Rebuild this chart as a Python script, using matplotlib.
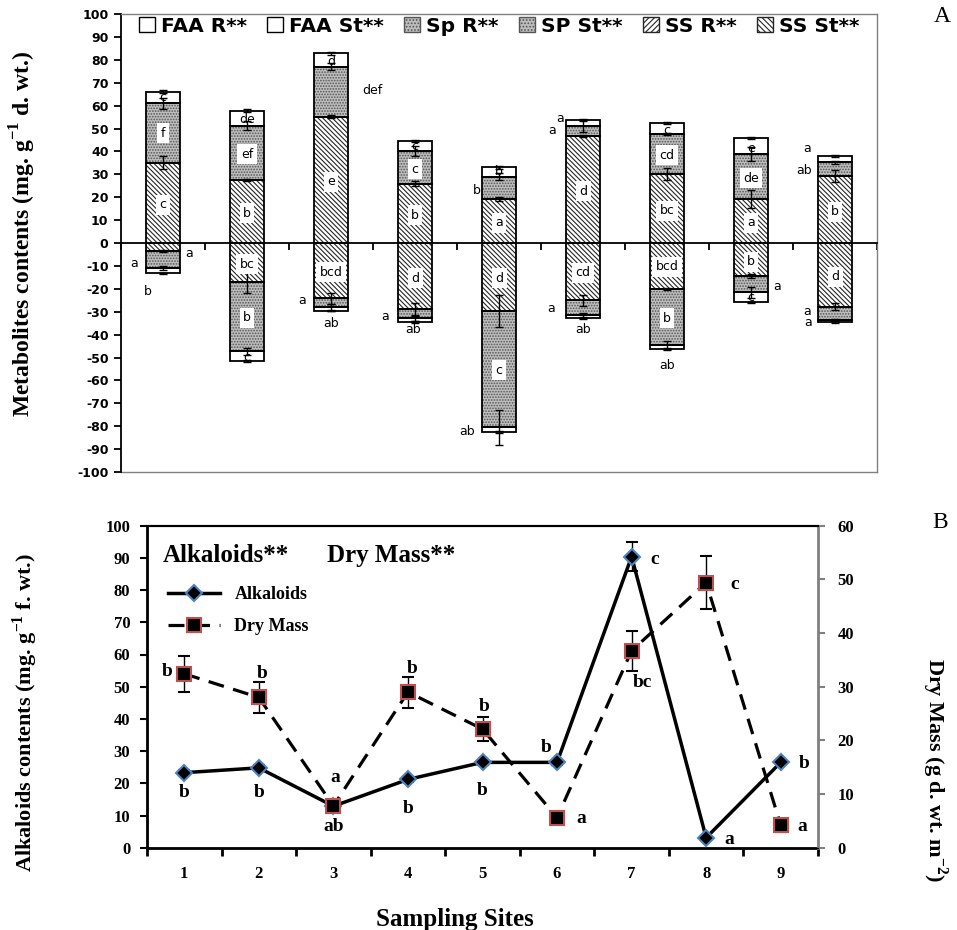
import numpy as np
import matplotlib
matplotlib.use('Agg')
import matplotlib.pyplot as plt
from matplotlib.patches import Patch
from matplotlib.lines import Line2D

plt.rcParams['hatch.linewidth'] = 0.8
plt.rcParams['axes.unicode_minus'] = False
plt.rcParams['mathtext.fontset'] = 'custom'
plt.rcParams['mathtext.rm'] = 'Liberation Serif'
plt.rcParams['mathtext.bf'] = 'Liberation Serif:bold'

# ---- panel A data (mg g-1 d. wt.) ----
sites = ['1', '2', '3', '4', '5', '6', '7', '8', '9']
ss_r = [35.1, 27.5, 55.2, 25.9, 19.3, 46.7, 30.1, 19.3, 29.3]
sp_r = [25.9, 23.7, 21.8, 14.3, 9.7, 4.4, 17.5, 19.6, 5.9]
faa_r = [5.1, 6.6, 5.8, 4.3, 4.0, 2.5, 4.9, 7.1, 2.7]
ss_st = [3.6, 17.2, 24.2, 28.8, 29.7, 25.0, 20.2, 14.4, 27.8]
sp_st = [7.4, 30.0, 3.9, 4.1, 50.8, 6.6, 24.3, 7.1, 5.8]
faa_st = [2.2, 4.3, 1.5, 1.6, 2.0, 1.2, 1.9, 4.4, 0.9]

ss_r_err = [3.0, 0.5, 0.5, 1.0, 1.0, 0.5, 2.5, 4.0, 2.5]
sp_r_err = [2.5, 2.0, 1.5, 2.0, 1.5, 2.5, 0.5, 3.0, 0.5]
faa_r_err = [0.5, 0.5, 0.5, 0.5, 0.5, 0.5, 0.5, 0.5, 0.5]
ss_st_err = [0.5, 4.5, 2.5, 2.5, 7.0, 2.5, 0.5, 1.0, 1.5]
sp_st_err = [1.0, 1.5, 1.5, 1.0, 7.5, 1.0, 1.5, 2.5, 0.5]
faa_st_err = [0.3, 0.3, 0.3, 0.3, 0.3, 0.3, 0.3, 0.3, 0.3]

# letters inside bars (white box): bar, y, text
boxed = [(0, 16.6, 'c'), (0, 47.9, 'f'), (1, 13, 'b'), (1, 38.7, 'ef'), (2, 26.8, 'e'),
         (3, 12.2, 'b'), (3, 32.3, 'c'), (4, 8.9, 'a'), (5, 22.7, 'd'), (6, 14.1, 'bc'),
         (6, 38.3, 'cd'), (7, 8.9, 'a'), (7, 28.2, 'de'), (8, 13.7, 'b'),
         (1, -9.3, 'bc'), (1, -32.6, 'b'), (2, -12.7, 'bcd'), (3, -15.4, 'd'), (4, -15.4, 'd'),
         (4, -55.5, 'c'), (5, -13, 'cd'), (6, -10.3, 'bcd'), (6, -32.8, 'b'), (7, -8.2, 'b'),
         (8, -14.7, 'd')]
# plain letters: bar, y, text, x shift
plain = [(0, 63.5, 'c', 0), (1, 54, 'de', 0), (2, 79.2, 'd', 0), (2, 66.8, 'def', 0.49),
         (3, 42, 'c', 0), (4, 22.8, 'b', -0.27), (4, 31.1, 'b', 0), (5, 49, 'a', -0.37),
         (5, 54.5, 'a', -0.27), (6, 49.3, 'c', 0), (7, 41.3, 'e', 0), (8, 31.6, 'ab', -0.37),
         (8, 41.4, 'a', -0.33),
         (0, -9, 'a', -0.345), (0, -4.8, 'a', 0.31), (0, -21, 'b', -0.18), (1, -50, 'c', 0),
         (2, -25, 'a', -0.345), (2, -35, 'ab', 0), (3, -32, 'a', -0.35), (3, -37.6, 'ab', -0.02),
         (4, -82.5, 'ab', -0.38), (5, -28.8, 'a', -0.38), (5, -37.6, 'ab', 0),
         (6, -53.3, 'ab', 0), (7, -18.8, 'a', 0.31), (7, -24, 'c', 0),
         (8, -29.7, 'a', -0.33), (8, -34.8, 'a', -0.32)]

# ---- panel B data ----
alkaloids = [23.3, 24.8, 12.9, 21.2, 26.5, 26.5, 90.4, 3.1, 26.5]
alk_err = [0.8, 0.8, 0.8, 0.8, 0.8, 0.8, 4.5, 0.5, 0.5]
dry_mass = [32.4, 28.0, 7.8, 29.0, 22.1, 5.6, 36.7, 49.4, 4.2]
dm_err = [3.3, 2.9, 0.6, 2.9, 2.2, 0.3, 3.7, 4.9, 0.3]
alk_letters = [(1, 17, 'b'), (2, 17, 'b'), (3, 6.5, 'ab'), (4, 12.3, 'b'), (5, 17.9, 'b'),
               (5.86, 31, 'b'), (7.31, 89.6, 'c'), (8.31, 2.4, 'a'), (9.32, 26.3, 'b')]
dm_letters = [(0.77, 54.7, 'b'), (2.04, 54, 'b'), (3.03, 21.7, 'a'), (4.05, 55.5, 'b'),
              (5.02, 44, 'b'), (6.32, 9.2, 'a'), (7.15, 51.2, 'bc'), (8.38, 81.6, 'c'),
              (9.29, 6.5, 'a')]

serif = 'Liberation Serif'
sans = 'DejaVu Sans'

fig = plt.figure(figsize=(9.57, 9.30), dpi=100)

# ================= panel A =================
ax1 = fig.add_axes([121 / 957, 1 - 472 / 930, 756 / 957, 458 / 930])
x = np.arange(len(sites))
w = 0.40

styles = {
    'ss': dict(face='white', hatch='\\\\\\\\\\\\\\', hcol='#262626'),
    'sp': dict(face='#bdbdbd', hatch='......', hcol='#555555'),
    'faa': dict(face='white', hatch=None, hcol='black'),
}


def seg(vals, bottoms, key):
    st = styles[key]
    ax1.bar(x, vals, w, bottom=bottoms, color=st['face'], edgecolor=st['hcol'],
            hatch=st['hatch'], lw=0, zorder=2)
    ax1.bar(x, vals, w, bottom=bottoms, fill=False, edgecolor='black', lw=1.3, zorder=3)


ss_r_a, sp_r_a, faa_r_a = np.array(ss_r), np.array(sp_r), np.array(faa_r)
ss_st_a, sp_st_a, faa_st_a = np.array(ss_st), np.array(sp_st), np.array(faa_st)

seg(ss_r_a, 0, 'ss')
seg(sp_r_a, ss_r_a, 'sp')
seg(faa_r_a, ss_r_a + sp_r_a, 'faa')
seg(-ss_st_a, 0, 'ss')
seg(-sp_st_a, -ss_st_a, 'sp')
seg(-faa_st_a, -(ss_st_a + sp_st_a), 'faa')

tops = [ss_r_a, ss_r_a + sp_r_a, ss_r_a + sp_r_a + faa_r_a,
        -ss_st_a, -(ss_st_a + sp_st_a), -(ss_st_a + sp_st_a + faa_st_a)]
errs = [ss_r_err, sp_r_err, faa_r_err, ss_st_err, sp_st_err, faa_st_err]
for t, e in zip(tops, errs):
    ax1.errorbar(x, t, yerr=e, fmt='none', ecolor='black', elinewidth=1, capsize=3,
                 capthick=1, zorder=4)

for b, y, t in boxed:
    ax1.text(x[b], y, t, ha='center', va='center', fontsize=9, family=sans, zorder=5,
             bbox=dict(facecolor='white', edgecolor='none', pad=2.5))
for b, y, t, dx in plain:
    ax1.text(x[b] + dx, y, t, ha='center', va='center', fontsize=9, family=sans, zorder=5)

ax1.set_xlim(-0.5, 8.5)
ax1.set_ylim(-100, 100)
ax1.set_yticks(np.arange(-100, 101, 10))
ax1.set_xticks(np.arange(-0.5, 9, 1))
ax1.tick_params(axis='x', direction='out', length=5, width=1.3, labelbottom=False)
ax1.tick_params(axis='y', direction='out', length=5, width=1.3, pad=4)
for lab in ax1.get_yticklabels():
    lab.set_fontweight('bold')
    lab.set_family(sans)
    lab.set_fontsize(9)
ax1.spines['bottom'].set_position(('data', 0))
ax1.spines['bottom'].set_linewidth(1.3)
ax1.spines['left'].set_linewidth(1.3)
for s in ['top', 'right']:
    ax1.spines[s].set_color('#808080')
    ax1.spines[s].set_linewidth(1)
ax1.plot([0, 1], [0, 0], transform=ax1.transAxes, color='#808080', lw=1, clip_on=False)
ax1.set_ylabel('Metabolites contents (mg. g$^{\\mathbf{-1}}$ d. wt.)', family=serif,
               fontweight='bold', fontsize=17)
ax1.yaxis.set_label_coords(-0.11, 0.52)

leg_handles = [
    Patch(facecolor='white', edgecolor='black', label='FAA R**'),
    Patch(facecolor='white', edgecolor='black', label='FAA St**'),
    Patch(facecolor=styles['sp']['face'], edgecolor=styles['sp']['hcol'], hatch='.....', label='Sp R**'),
    Patch(facecolor=styles['sp']['face'], edgecolor=styles['sp']['hcol'], hatch='.....', label='SP St**'),
    Patch(facecolor='white', edgecolor='#262626', hatch='//////', label='SS R**'),
    Patch(facecolor='white', edgecolor='#262626', hatch='\\\\\\\\\\\\', label='SS St**'),
]
ax1.legend(handles=leg_handles, loc='upper center', bbox_to_anchor=(0.5, 1.012), ncol=6,
           frameon=False, prop=dict(family=sans, weight='bold', size=14.5),
           handlelength=0.8, handleheight=0.8, handletextpad=0.3, columnspacing=1.0,
           borderaxespad=0)

# ================= panel B =================
ax = fig.add_axes([147 / 957, 1 - 847.7 / 930, 671 / 957, 322 / 930])
ax2 = ax.twinx()
xs = np.arange(1, 10)

ax.errorbar(xs, alkaloids, yerr=alk_err, color='black', lw=2.5, marker='D', ms=8,
            mfc='black', mec='#4F81BD', mew=1.5, ecolor='black', elinewidth=1,
            capsize=4, capthick=1, zorder=3)
ax2.errorbar(xs, dry_mass, yerr=dm_err, color='black', ls=(0, (5, 3)), lw=2.3, marker='s',
             ms=10, mfc='black', mec='#C0504D', mew=1.5, ecolor='black', elinewidth=1,
             capsize=4, capthick=1, zorder=3)

bold_serif = dict(family=serif, fontweight='bold')
for xx, y, t in alk_letters:
    ax.text(xx, y, t, ha='center', va='center', fontsize=14, **bold_serif)
for xx, y, t in dm_letters:
    ax.text(xx, y, t, ha='center', va='center', fontsize=14, **bold_serif)

ax.set_xlim(0.5, 9.5)
ax.set_ylim(0, 100)
ax2.set_ylim(0, 60)
ax.set_yticks(np.arange(0, 101, 10))
ax2.set_yticks(np.arange(0, 61, 10))
ax.set_xticks(xs)
ax.set_xticklabels(sites)
ax.set_xticks(np.arange(0.5, 10, 1), minor=True)
ax.tick_params(axis='x', which='major', length=0, pad=13)
ax.tick_params(axis='x', which='minor', direction='out', length=6, width=2)
ax.tick_params(axis='y', direction='out', length=5, width=1.5, pad=7)
ax2.tick_params(axis='y', direction='out', length=5, width=1.5, pad=9, color='#808080')
for lab in ax.get_xticklabels() + ax.get_yticklabels() + ax2.get_yticklabels():
    lab.set_family(serif)
    lab.set_fontweight('bold')
    lab.set_fontsize(12)
for s in ['left', 'bottom']:
    ax.spines[s].set_linewidth(2)
ax.spines['top'].set_linewidth(1.5)
ax2.spines['top'].set_linewidth(1.5)
ax2.spines['right'].set_color('#808080')
ax2.spines['right'].set_linewidth(2)
ax.spines['right'].set_visible(False)

ax.set_ylabel('Alkaloids contents (mg. g$^{\\mathbf{-1}}$ f. wt.)', fontsize=16, **bold_serif)
ax.yaxis.set_label_coords(-0.16, 0.42)
ax2.set_ylabel('Dry Mass (g d. wt. m$^{\\mathbf{-2}}$)', fontsize=16, rotation=270,
               va='center', **bold_serif)
ax2.yaxis.set_label_coords(1.174, 0.24)
ax.set_xlabel('Sampling Sites', fontsize=18, **bold_serif)
ax.xaxis.set_label_coords(0.459, -0.187)

ax2.text(0.024, 0.908, 'Alkaloids**', transform=ax2.transAxes, ha='left', va='center',
         fontsize=18, **bold_serif)
ax2.text(0.268, 0.908, 'Dry Mass**', transform=ax2.transAxes, ha='left', va='center',
         fontsize=18, **bold_serif)

b_handles = [
    Line2D([], [], color='black', lw=2.5, marker='D', ms=8, mfc='black', mec='#4F81BD',
           mew=1.5, label='Alkaloids'),
    Line2D([], [], color='black', lw=2.3, ls=(0, (5, 3)), marker='s', ms=10, mfc='black',
           mec='#C0504D', mew=1.5, label='Dry Mass'),
]
ax2.legend(handles=b_handles, loc='upper left', bbox_to_anchor=(0.02, 0.835), frameon=False,
           prop=dict(family=serif, weight='bold', size=13), handlelength=2.9,
           labelspacing=0.85, borderaxespad=0)

fig.text(942 / 957, 1 - 17 / 930, 'A', family=serif, fontsize=17, ha='center', va='center')
fig.text(940 / 957, 1 - 522 / 930, 'B', family=serif, fontsize=17, ha='center', va='center')

fig.savefig('out.png', dpi=100)
